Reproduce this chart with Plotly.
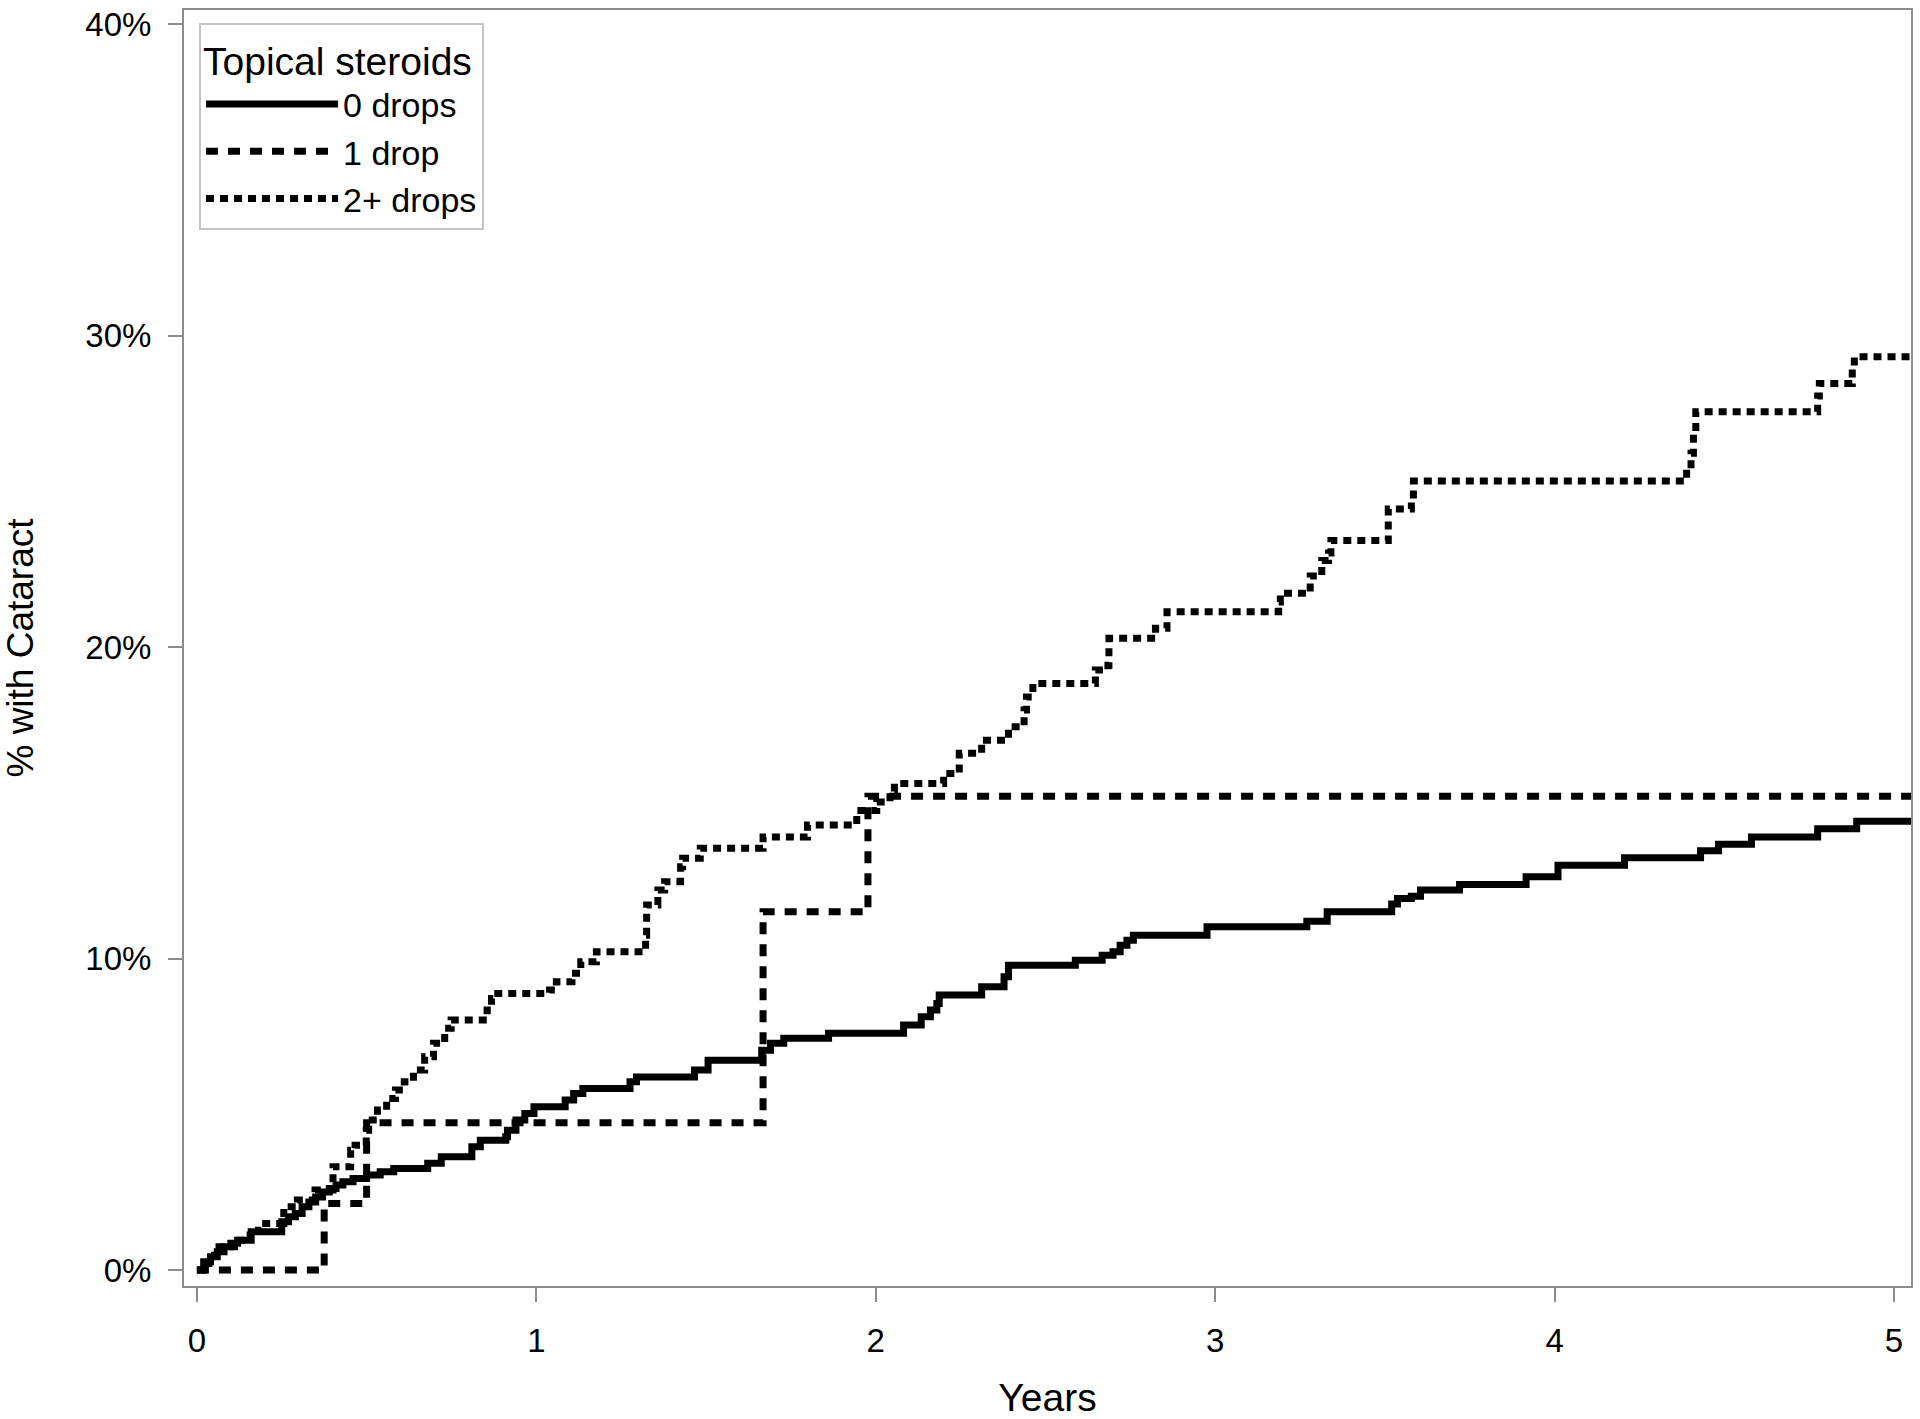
import plotly.graph_objects as go

# ---- data (years, cumulative % with cataract) ----
t_drops0 = [0, 0.02, 0.04, 0.06, 0.08, 0.10, 0.12, 0.16, 0.25, 0.27, 0.29, 0.31, 0.33, 0.35,
            0.37, 0.39, 0.41, 0.43, 0.46, 0.50, 0.54, 0.58, 0.68, 0.72, 0.81, 0.835, 0.91,
            0.915, 0.94, 0.966, 0.993, 1.085, 1.11, 1.137, 1.276, 1.295, 1.466, 1.506, 1.664,
            1.69, 1.729, 1.861, 2.082, 2.134, 2.161, 2.18, 2.187, 2.312, 2.378, 2.391, 2.588,
            2.667, 2.699, 2.72, 2.74, 2.759, 2.976, 3.27, 3.33, 3.52, 3.537, 3.578, 3.605,
            3.72, 3.916, 4.01, 4.206, 4.43, 4.483, 4.58, 4.775, 4.89, 5.05]
pct_drops0 = [0, 0.27, 0.43, 0.59, 0.75, 0.86, 0.96, 1.23, 1.55, 1.71, 1.82, 2.03, 2.19, 2.35,
              2.51, 2.62, 2.73, 2.84, 2.94, 3.05, 3.16, 3.26, 3.43, 3.64, 3.96, 4.17, 4.28,
              4.49, 4.82, 5.03, 5.24, 5.46, 5.67, 5.83, 6.05, 6.20, 6.42, 6.74, 7.06,
              7.28, 7.44, 7.60, 7.87, 8.13, 8.35, 8.56, 8.83, 9.10, 9.42, 9.79, 9.95,
              10.11, 10.22, 10.43, 10.59, 10.75, 11.02, 11.20, 11.50, 11.75, 11.93, 12.00, 12.20,
              12.38, 12.63, 13.00, 13.24, 13.46, 13.67, 13.90, 14.17, 14.41, 14.41]

t_drop1 = [0, 0.375, 0.50, 1.668, 1.977, 5.05]
pct_drop1 = [0, 2.14, 4.73, 11.50, 15.21, 15.21]

t_drops2 = [0, 0.019, 0.052, 0.111, 0.157, 0.19, 0.256, 0.296, 0.348, 0.401, 0.453, 0.466,
            0.499, 0.506, 0.532, 0.559, 0.585, 0.611, 0.638, 0.671, 0.697, 0.73, 0.749, 0.855,
            0.868, 0.874, 1.039, 1.059, 1.105, 1.131, 1.177, 1.322, 1.325, 1.358, 1.378, 1.425,
            1.431, 1.483, 1.668, 1.799, 1.944, 2.003, 2.042, 2.055, 2.20, 2.246, 2.312, 2.391,
            2.437, 2.444, 2.463, 2.647, 2.684, 2.687, 2.824, 2.858, 3.187, 3.192, 3.28, 3.314,
            3.334, 3.341, 3.51, 3.578, 3.584, 4.389, 4.402, 4.409, 4.416, 4.775, 4.78, 4.877,
            4.883, 5.05]
pct_drops2 = [0, 0.21, 0.75, 0.96, 1.28, 1.50, 2.03, 2.25, 2.57, 3.32, 3.85, 4.01,
              4.49, 4.82, 5.14, 5.51, 5.78, 6.05, 6.42, 6.85, 7.28, 7.76, 8.03, 8.35,
              8.72, 8.88, 8.99, 9.26, 9.53, 9.90, 10.22, 10.75, 11.72, 12.20, 12.47, 12.95,
              13.22, 13.54, 13.90, 14.29, 14.75, 15.03, 15.36, 15.62, 15.94, 16.59, 17.01, 17.44,
              17.98, 18.40, 18.83, 19.26, 19.42, 20.28, 20.60, 21.13, 21.45, 21.73, 22.28, 22.78,
              23.02, 23.42, 24.43, 24.74, 25.33, 25.73, 26.22, 26.84, 27.55, 28.06, 28.46, 28.99,
              29.32, 29.32]

series_names = ["0 drops", "1 drop", "2+ drops"]
x_ticks = [0, 1, 2, 3, 4, 5]
y_ticks = [0, 10, 20, 30, 40]
y_tick_labels = ["0%", "10%", "20%", "30%", "40%"]

FONT = "Arial, 'Liberation Sans', sans-serif"

fig = go.Figure()
fig.add_trace(go.Scatter(x=t_drops0, y=pct_drops0, mode="lines", name=series_names[0],
                         line=dict(color="black", width=7, shape="hv")))
fig.add_trace(go.Scatter(x=t_drop1, y=pct_drop1, mode="lines", name=series_names[1],
                         line=dict(color="black", width=7, shape="hv", dash="12px,10px")))
fig.add_trace(go.Scatter(x=t_drops2, y=pct_drops2, mode="lines", name=series_names[2],
                         line=dict(color="black", width=7, shape="hv", dash="8px,6px")))

axis_common = dict(showgrid=False, zeroline=False, showline=True, mirror=True,
                   linecolor="#8c8c8c", linewidth=2, ticks="outside", ticklen=14,
                   tickwidth=2, tickcolor="#8c8c8c", ticklabeloverflow="allow",
                   automargin=False,
                   tickfont=dict(family=FONT, size=33, color="black"))

fig.update_xaxes(range=[-0.038, 5.05], tickvals=x_ticks, ticklabelstandoff=10,
                 title=dict(text="Years", font=dict(family=FONT, size=39, color="black"),
                            standoff=36),
                 **axis_common)
fig.update_yaxes(range=[-0.51, 40.45], tickvals=y_ticks, ticktext=y_tick_labels,
                 ticklabelstandoff=10,
                 title=dict(text="% with Cataract", font=dict(family=FONT, size=37, color="black"),
                            standoff=54),
                 **axis_common)

fig.update_layout(
    width=1920, height=1419,
    margin=dict(l=184, r=9, t=10, b=133),
    plot_bgcolor="white", paper_bgcolor="white",
    font=dict(family=FONT, color="black"),
    legend=dict(title=dict(text="Topical steroids", font=dict(family=FONT, size=39)),
                font=dict(family=FONT, size=34),
                x=0.0087, y=0.99, xanchor="left", yanchor="top",
                bordercolor="#c4c4c4", borderwidth=2, bgcolor="white",
                itemwidth=132, tracegroupgap=0),
)

fig.write_html("out.html", config={"displayModeBar": False},
               post_script="document.body.style.margin='0';document.body.style.overflow='hidden';")
